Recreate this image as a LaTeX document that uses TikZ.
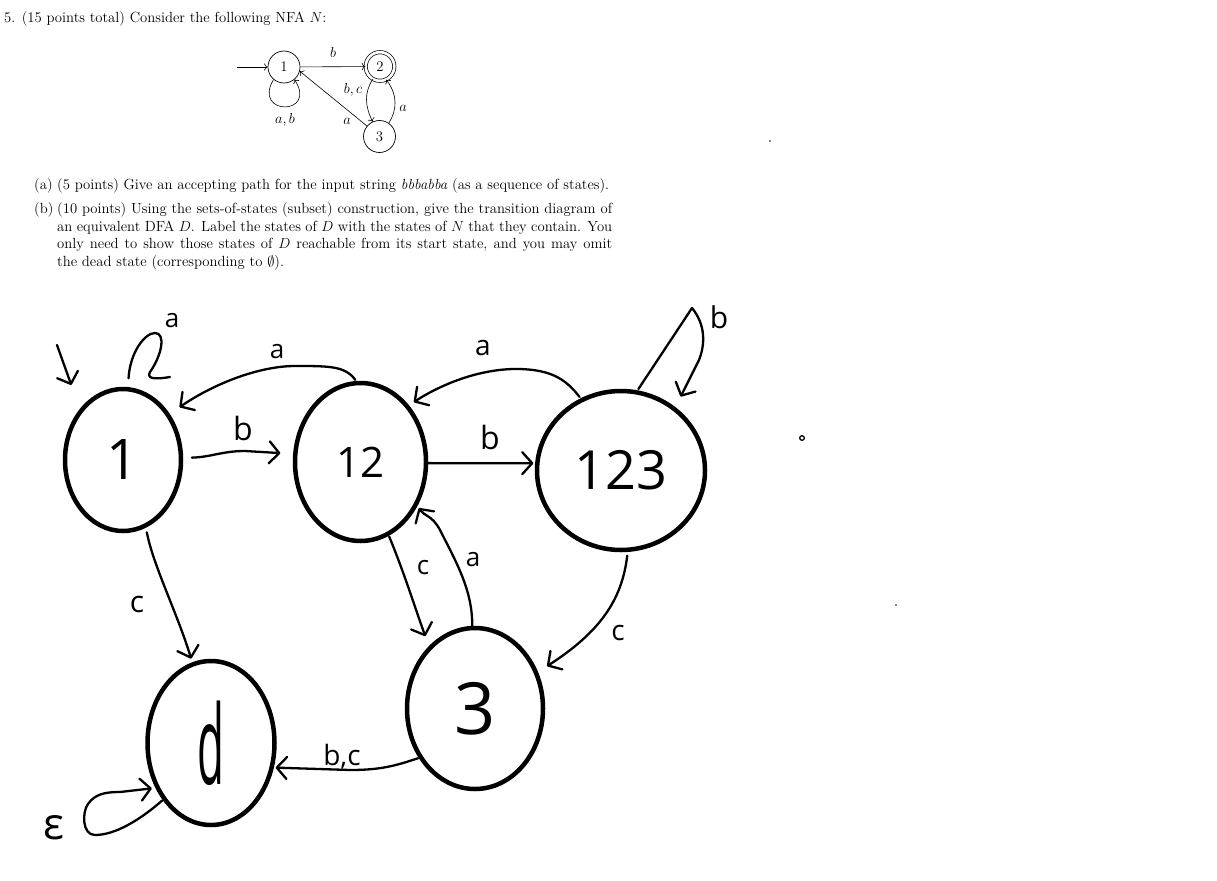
\documentclass[tikz,border=0pt]{standalone}
\usepackage{fontspec}
\usepackage{graphicx}
\newfontfamily\handfont{Open Sans}
\newcommand\mydoc{\fontsize{14.7}{17.6}\selectfont}
\usetikzlibrary{shapes.geometric,arrows.meta}
\begin{document}
\begin{tikzpicture}[x=1pt,y=-1pt,
  hstate/.style={draw, ellipse, line width=4.5pt, inner sep=0pt, outer sep=0pt},
  hline/.style={line width=2.3pt, line cap=round, line join=round},
  harrow/.style={hline, -{Straight Barb[length=10pt,width=22pt,round]}},
  hlbl/.style={inner sep=0pt, font=\handfont\fontsize{#1}{#1}\selectfont},
  nstate/.style={draw, circle, line width=0.7pt, minimum size=32pt, inner sep=0pt, font=\mydoc},
  narrow/.style={line width=0.6pt, -{To[length=3.5pt,width=7pt]}},
  nlbl/.style={inner sep=0pt, font=\mydoc},
  doc/.style={inner sep=0pt, anchor=base west, font=\mydoc}]
\fill[white] (0,0) rectangle (1217,880);
\useasboundingbox (0,0) rectangle (1217,880);

% ---------- printed text ----------
\node[doc] (t0) at (4,23) {5. (15 points total) Consider the following NFA $N$:};
\node[doc] (ta) at (34,189) {(a)};
\node[doc] (tat) at (57,189) {(5 points) Give an accepting path for the input string \emph{bbbabba} (as a sequence of states).};
\node[doc] (tb) at (34,213.5) {(b)};
\node[doc, text width=555pt, align=justify] (tbt) at (57,213.5) {(10 points) Using the sets-of-states (subset) construction, give the transition diagram of\linebreak an equivalent DFA $D$. Label the states of $D$ with the states of $N$ that they contain. You\linebreak only need to show those states of $D$ reachable from its start state, and you may omit\linebreak the dead state (corresponding to $\emptyset$).};

% ---------- printed NFA ----------
\node[nstate] (n1) at (284,67) {1};
\node[nstate, double, double distance=2.6pt, minimum size=28.6pt] (n2) at (380,66.5) {2};
\node[nstate] (n3) at (379.5,136.5) {3};
\coordinate (nst) at (237,67);
\draw[narrow] (nst) -- (n1);
\draw[narrow] (n1) -- (n2);
\draw[narrow] (n2.240) .. controls (364,93) and (365,106) .. (n3.115);
\draw[narrow] (n3.55) .. controls (397,110) and (398,95) .. (n2.295);
\draw[narrow] (n3.140) -- (n1.-15);
\draw[narrow] (n1.230) .. controls (252,116) and (318,116) .. (n1.310);
\node[nlbl] (nlb) at (333,53) {$b$};
\node[nlbl] (nlab) at (285,120) {$a,b$};
\node[nlbl] (nlbc) at (353,90) {$b,c$};
\node[nlbl] (nla1) at (403,108) {$a$};
\node[nlbl] (nla2) at (347,121) {$a$};

% ---------- handwritten DFA ----------
\node[hstate, minimum width=116pt, minimum height=142pt, font=\handfont\fontsize{56}{56}\selectfont] (s1) at (123,460) {1};
\node[hstate, minimum width=131pt, minimum height=158pt, font=\handfont\fontsize{42}{42}\selectfont] (s12) at (360.5,462) {12};
\node[hstate, minimum width=168pt, minimum height=159pt, font=\handfont\fontsize{54}{54}\selectfont] (s123) at (621,470.5) {123};
\node[hstate, minimum width=127pt, minimum height=164pt, font=\handfont\fontsize{110}{110}\selectfont] (sd) at (211,743) {\scalebox{0.4}[1]{d}};
\node[hstate, minimum width=136pt, minimum height=161pt, font=\handfont\fontsize{72}{72}\selectfont] (s3) at (475,708.5) {3};

% start arrow
\coordinate (st1) at (57,345);
\draw[harrow, shorten >=28pt] (st1) -- (s1.131.6);
% loop a on 1
\coordinate (l1e) at (170,377);
\draw[hline, shorten <=11pt] (s1.86) .. controls (130,352) and (145,333) .. (155,333) .. controls (166,333) and (162,355) .. (150,372) .. controls (147,378) and (152,380) .. (l1e);
\node[hlbl=26] (la1) at (172,321) {a};
% a : 12 -> 1
\draw[harrow, shorten <=4pt, shorten >=14pt] (s12.92.4) .. controls (345,366) and (330,366) .. (295,366) .. controls (260,366) and (215,383) .. (s1.45);
\node[hlbl=26] (la2) at (277,352) {a};
% b : 1 -> 12
\draw[harrow, shorten <=11pt, shorten >=15pt] (s1.2.5) .. controls (212,457) and (222,451) .. (245,451) -- (s12.173);
\node[hlbl=32] (lb1) at (243,428) {b};
% b : 12 -> 123
\draw[harrow, shorten >=4pt] (s12.-1) -- (s123.175.5);
\node[hlbl=32] (lb2) at (490,437) {b};
% a : 123 -> 12
\draw[harrow, shorten <=4pt, shorten >=8pt] (s123.119.5) .. controls (565,378) and (550,370) .. (520,369) .. controls (480,368) and (440,385) .. (s12.50.3);
\node[hlbl=28] (la3) at (483,348) {a};
% b loop on 123
\draw[harrow, shorten <=4pt, shorten >=14pt] (s123.79.6) -- (692,308) .. controls (706,325) and (705,345) .. (699,360) -- (s123.49.7);
\node[hlbl=30] (lb3) at (719,317) {b};
% c : 1 -> d
\draw[harrow, shorten <=7pt, shorten >=6pt] (s1.-71.8) .. controls (153,565) and (178,615) .. (sd.103.4);
\node[hlbl=30] (lc1) at (137,604) {c};
% c : 12 -> 3
\draw[harrow, shorten <=3pt, shorten >=13pt] (s12.-69.2) .. controls (405,575) and (414,605) .. (s3.127.5);
\node[hlbl=26] (lc2) at (423,568) {c};
% a : 3 -> 12
\draw[harrow, shorten <=1pt, shorten >=5pt] (s3.92) .. controls (473,590) and (455,560) .. (440,530) .. controls (432,515) and (424,516) .. (s12.-37.1);
\node[hlbl=26] (la4) at (473,560) {a};
% c : 123 -> 3
\draw[harrow, shorten <=6pt, shorten >=13pt] (s123.-85.4) .. controls (622,600) and (600,632) .. (s3.30.6);
\node[hlbl=28] (lc3) at (618,633) {c};
% b,c : 3 -> d
\draw[harrow, shorten <=3pt, shorten >=4pt] (s3.222.2) .. controls (395,766) and (380,770) .. (350,770) -- (sd.-22.9);
\node[hlbl=28] (lbc) at (342,757) {b,c};
% epsilon loop on d
\draw[harrow, shorten <=3pt, shorten >=6pt] (sd.230.8) .. controls (140,820) and (115,835) .. (95,835) .. controls (82,835) and (82,812) .. (88,804) .. controls (95,794) and (105,792) .. (120,792) -- (sd.220.2);
\node[hlbl=44] (leps) at (54,828) {ε};

% stray marks
\fill (770,141) circle (0.8pt);
\fill (896,605) circle (0.8pt);
\draw[line width=1.3pt] (802,438) circle (2.3pt);
\end{tikzpicture}
\end{document}
